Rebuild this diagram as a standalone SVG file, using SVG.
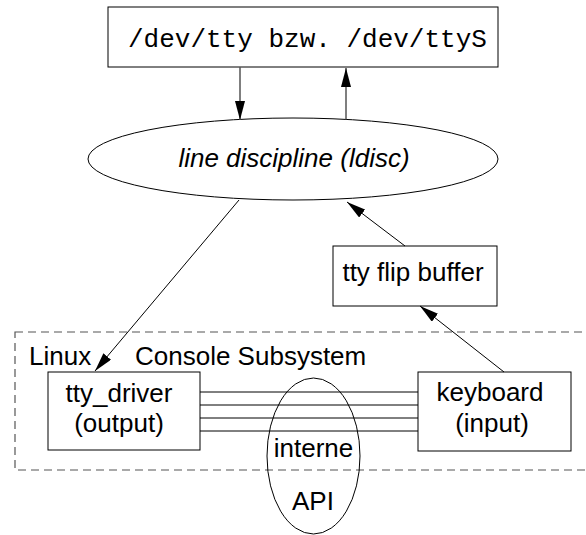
<svg xmlns="http://www.w3.org/2000/svg" width="586" height="535" viewBox="0 0 586 535">
  <style>
    .box { fill: #fff; stroke: #000; stroke-width: 1; }
    .ell { fill: none; stroke: #000; stroke-width: 1; }
    .lbl { font-family: "Liberation Sans", Arial, sans-serif; font-size: 26px; fill: #000; text-anchor: middle; }
    .left { text-anchor: start; }
    .mono { font-family: "Liberation Mono", "Courier New", monospace; font-size: 26px; fill: #000; }
    .conn { fill: none; stroke: #000; stroke-width: 1; }
    .vert { fill: none; stroke: #555; stroke-width: 1.5; }
    .api { fill: none; stroke: #000; stroke-width: 1; }
  </style>
  <defs>
    <marker id="arrow" markerUnits="userSpaceOnUse" markerWidth="20" markerHeight="11" refX="19" refY="5" orient="auto">
      <path d="M0,0 L19,5 L0,10 z" fill="#000"/>
    </marker>
  </defs>

  <rect width="586" height="535" fill="#fff"/>

  <!-- dashed subsystem frame with its caption -->
  <g id="console-subsystem">
    <rect x="15" y="332" width="580" height="138" fill="none" stroke="#555" stroke-width="1.2" stroke-dasharray="8,5"/>
    <text class="lbl left" x="29" y="365">Linux</text>
    <text class="lbl left" x="135" y="365">Console Subsystem</text>
  </g>

  <g id="dev-tty">
    <rect class="box" x="108" y="7" width="390" height="60"/>
    <text class="mono" x="128" y="47">/dev/tty bzw. /dev/ttyS</text>
  </g>

  <g id="ldisc">
    <ellipse class="ell" cx="293" cy="159" rx="205" ry="41"/>
    <text class="lbl" x="294" y="167" font-style="italic">line discipline (ldisc)</text>
  </g>

  <g id="flip-buffer">
    <rect class="box" x="333" y="246" width="164" height="60"/>
    <text class="lbl" x="413" y="281">tty flip buffer</text>
  </g>

  <g id="tty-driver">
    <rect class="box" x="48" y="372" width="152" height="78"/>
    <text class="lbl" x="119" y="402">tty_driver</text>
    <text class="lbl" x="119" y="432">(output)</text>
  </g>

  <g id="keyboard">
    <rect class="box" x="418" y="372" width="153" height="79"/>
    <text class="lbl" x="490" y="401">keyboard</text>
    <text class="lbl" x="492" y="432">(input)</text>
  </g>

  <g id="internal-api">
    <ellipse class="api" cx="313.5" cy="456" rx="46.5" ry="78"/>
    <text class="lbl" x="313.5" y="457">interne</text>
    <text class="lbl" x="313" y="510">API</text>
  </g>

  <!-- connectors -->
  <g id="connectors">
    <line class="vert" x1="240" y1="67" x2="240" y2="120" marker-end="url(#arrow)"/>
    <line class="vert" x1="346" y1="119.5" x2="346" y2="68" marker-end="url(#arrow)"/>
    <line class="conn" x1="239" y1="200" x2="95" y2="371" marker-end="url(#arrow)"/>
    <line class="conn" x1="405" y1="246" x2="347" y2="202" marker-end="url(#arrow)"/>
    <line class="conn" x1="504" y1="372" x2="420" y2="306" marker-end="url(#arrow)"/>
    <line class="conn" x1="200" y1="392" x2="418" y2="392"/>
    <line class="conn" x1="200" y1="405" x2="418" y2="405"/>
    <line class="conn" x1="200" y1="418" x2="418" y2="418"/>
    <line class="conn" x1="200" y1="431" x2="418" y2="431"/>
  </g>
</svg>
